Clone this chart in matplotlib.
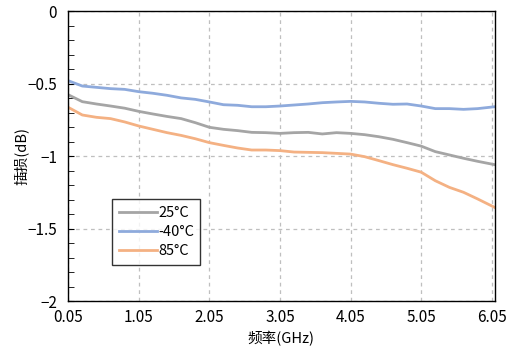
import matplotlib
matplotlib.use("Agg")
import matplotlib.pyplot as plt
from matplotlib.ticker import MultipleLocator

plt.rcParams['font.family'] = ['Noto Sans CJK SC', 'DejaVu Sans']
plt.rcParams['axes.unicode_minus'] = True

freq = [0.05, 0.25, 0.45, 0.65, 0.85, 1.05, 1.25, 1.45, 1.65, 1.85, 2.05,
        2.25, 2.45, 2.65, 2.85, 3.05, 3.25, 3.45, 3.65, 3.85, 4.05, 4.25,
        4.45, 4.65, 4.85, 5.05, 5.25, 5.45, 5.65, 5.85, 6.09]
t25 = [-0.575, -0.623, -0.639, -0.653, -0.668, -0.690, -0.708, -0.725, -0.740,
       -0.768, -0.800, -0.814, -0.823, -0.835, -0.837, -0.842, -0.837, -0.835,
       -0.846, -0.837, -0.842, -0.851, -0.865, -0.883, -0.906, -0.930, -0.968,
       -0.991, -1.014, -1.035, -1.058]
tm40 = [-0.478, -0.515, -0.524, -0.533, -0.538, -0.554, -0.565, -0.579, -0.597,
        -0.607, -0.625, -0.644, -0.648, -0.658, -0.658, -0.653, -0.646, -0.639,
        -0.630, -0.625, -0.621, -0.625, -0.634, -0.641, -0.639, -0.653, -0.671,
        -0.671, -0.676, -0.671, -0.658]
t85 = [-0.662, -0.715, -0.731, -0.740, -0.763, -0.791, -0.814, -0.837, -0.856,
       -0.879, -0.906, -0.925, -0.943, -0.957, -0.957, -0.961, -0.971, -0.973,
       -0.975, -0.980, -0.985, -1.003, -1.030, -1.058, -1.083, -1.110, -1.169,
       -1.215, -1.249, -1.295, -1.353]
series_labels = ['25°C', '-40°C', '85°C']
xticks = [0.05, 1.05, 2.05, 3.05, 4.05, 5.05, 6.05]
xtick_labels = ['0.05', '1.05', '2.05', '3.05', '4.05', '5.05', '6.05']
yticks = [0, -0.5, -1, -1.5, -2]
ytick_labels = ['0', '−0.5', '−1', '−1.5', '−2']

fig = plt.figure(figsize=(5.12, 3.48), dpi=100)
ax = fig.add_axes([0.1332, 0.135, 0.8328, 0.832])

colors = ['#A5A5A5', '#8EAADC', '#F4B183']
for ys, lab, c in zip([t25, tm40, t85], series_labels, colors):
    ax.plot(freq, ys, color=c, lw=2.0, label=lab)

ax.set_xlim(0.05, 6.09)
ax.set_ylim(-2, 0)
ax.set_xticks(xticks)
ax.set_xticklabels(xtick_labels)
ax.set_yticks(yticks)
ax.set_yticklabels(ytick_labels)
ax.yaxis.set_minor_locator(MultipleLocator(0.1))
ax.tick_params(axis='x', length=0, labelsize=11, pad=6)
ax.tick_params(axis='y', which='both', direction='in', length=4, labelsize=11, pad=8)
ax.grid(True, which='major', color='#BFBFBF', linestyle=(0, (3, 3)), lw=0.9)
for s in ax.spines.values():
    s.set_color('black')
    s.set_linewidth(1.0)

ax.set_xlabel('频率(GHz)', fontsize=10.5, labelpad=3)
ax.set_ylabel('插损(dB)', fontsize=10.5, va='center')
ax.yaxis.set_label_coords(-0.111, 0.5)

leg = ax.legend(loc='lower left', bbox_to_anchor=(0.103, 0.125), fontsize=10.5,
                frameon=True, fancybox=False, edgecolor='black', handlelength=2.6,
                handletextpad=0.1, borderpad=0.45, labelspacing=0.35,
                borderaxespad=0)
leg.get_frame().set_linewidth(1.0)

fig.savefig('out.png', dpi=100)
